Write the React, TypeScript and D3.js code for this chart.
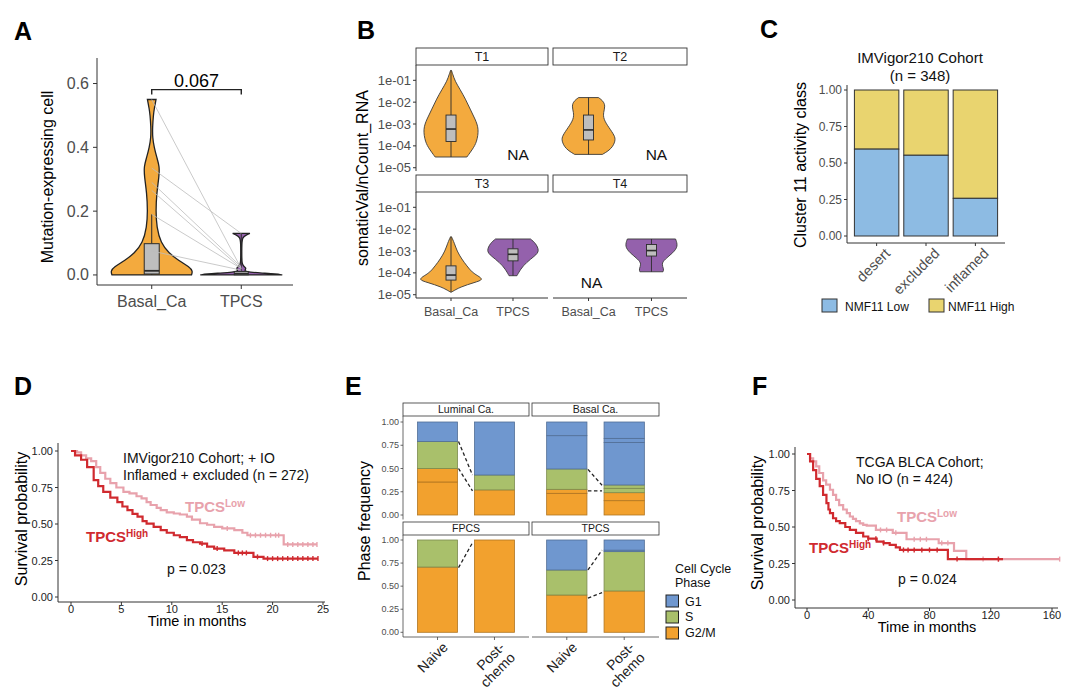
import React from 'react';
import * as d3 from 'd3';

const FONT = '"Liberation Sans", Arial, Helvetica, sans-serif';
const TICK_GRAY = '#4D4D4D';
const AXIS = '#333333';
const ORANGE = '#F3AA3E';
const PURPLE = '#9461AC';
const BOX_FILL = '#BEBEBE';
const RED = '#D02A2F';
const PINK = '#E8A2AC';

type Prof = [number, number][];

// ---------------- Panel A data ----------------
const aCategories = ['Basal_Ca', 'TPCS'];
const aTicks = [0, 0.2, 0.4, 0.6];
// [value, relative half-width]
const aBasalViolin: Prof = [[0, 0.97], [0.012, 1], [0.024, 0.93], [0.045, 0.66], [0.068, 0.42], [0.1, 0.22], [0.15, 0.12], [0.2, 0.1], [0.256, 0.12], [0.31, 0.18], [0.34, 0.19], [0.37, 0.12], [0.4, 0.06], [0.43, 0.02], [0.465, 0.02], [0.5, 0.04], [0.52, 0.06], [0.55, 0.105]];
const aTpcsViolin: Prof = [[0, 1], [0.003, 0.85], [0.006, 0.5], [0.009, 0.2], [0.012, 0.08], [0.017, 0.1], [0.022, 0.12], [0.027, 0.06], [0.035, 0.02], [0.05, 0.012], [0.1, 0.012], [0.118, 0.03], [0.125, 0.12], [0.13, 0.21]];
const aBasalBox = [0, 0.003, 0.013, 0.098, 0.19];
const aTpcsBox = [0, 0.0005, 0.004, 0.011, 0.13];
const aPairs: [number, number][] = [[0.55, 0.02], [0.335, 0.13], [0.29, 0.025], [0.265, 0.02], [0.19, 0.02], [0.075, 0.015]];
const aPValue = '0.067';

// ---------------- Panel B data ----------------
const bFacets = ['T1', 'T2', 'T3', 'T4'];
const bCategories = ['Basal_Ca', 'TPCS'];
const bTickExponents = [-5, -4, -3, -2, -1];
const bTickLabels = ['1e-05', '1e-04', '1e-03', '1e-02', '1e-01'];
// [log10 value, relative half-width]
const bT1Basal: Prof = [[-4.51, 0.48], [-4.14, 0.66], [-3.83, 0.78], [-3.23, 0.85], [-2.77, 0.73], [-2.32, 0.58], [-1.86, 0.44], [-1.41, 0.27], [-1.03, 0.12], [-0.73, 0.055], [-0.55, 0.015]];
const bT1BasalBox = [-4.51, -3.8, -3.23, -2.59, -0.55];
const bT2Basal: Prof = [[-4.39, 0.42], [-4.14, 0.7], [-3.76, 0.82], [-3.53, 0.79], [-3.15, 0.61], [-2.77, 0.45], [-2.47, 0.45], [-2.17, 0.51], [-1.94, 0.44], [-1.79, 0.3]];
const bT2BasalBox = [-4.39, -3.73, -3.27, -2.59, -1.79];
const bT3Basal: Prof = [[-4.88, 0.015], [-4.65, 0.27], [-4.43, 0.73], [-4.31, 0.99], [-4.13, 0.81], [-3.98, 0.64], [-3.68, 0.48], [-3.38, 0.33], [-3.0, 0.18], [-2.63, 0.1], [-2.35, 0.015]];
const bT3BasalBox = [-4.88, -4.33, -4.1, -3.68, -2.35];
const bT3Tpcs: Prof = [[-4.13, 0.12], [-3.83, 0.23], [-3.53, 0.4], [-3.23, 0.66], [-3.0, 0.81], [-2.63, 0.68], [-2.45, 0.53]];
const bT3TpcsBox = [-4.13, -3.45, -3.15, -2.9, -2.45];
const bT4Tpcs: Prof = [[-3.95, 0.35], [-3.83, 0.38], [-3.6, 0.3], [-3.38, 0.4], [-3.08, 0.66], [-2.78, 0.81], [-2.45, 0.73]];
const bT4TpcsBox = [-3.95, -3.23, -2.98, -2.7, -2.45];

// ---------------- Panel C data ----------------
const cCategories = ['desert', 'excluded', 'inflamed'];
const cLow = [0.595, 0.553, 0.258];
const cTicks = [0, 0.25, 0.5, 0.75, 1];
const cTickLabels = ['0.00', '0.25', '0.50', '0.75', '1.00'];
const cLegend = ['NMF11 Low', 'NMF11 High'];
const cColors = ['#8DBBE3', '#E9D46F'];

// ---------------- Panel D data ----------------
const dLow: [number, number][] = [[0, 1], [0.6, 0.99], [1, 0.97], [1.5, 0.95], [2, 0.93], [2.5, 0.89], [2.9, 0.85], [3.4, 0.81], [3.9, 0.78], [4.5, 0.75], [5.2, 0.72], [5.8, 0.71], [6.5, 0.69], [7, 0.675], [7.5, 0.65], [7.9, 0.63], [8.5, 0.61], [8.9, 0.595], [9.5, 0.58], [10.2, 0.572], [10.8, 0.565], [11.5, 0.55], [12, 0.53], [12.8, 0.505], [13.5, 0.495], [14.2, 0.48], [15, 0.47], [16.2, 0.458], [17, 0.44], [17.5, 0.423], [21.1, 0.36], [24.4, 0.36]];
const dHigh: [number, number][] = [[0, 1], [0.4, 0.97], [1, 0.94], [1.6, 0.89], [2.25, 0.8], [2.7, 0.76], [3.2, 0.72], [3.9, 0.68], [4.6, 0.65], [5.1, 0.62], [5.6, 0.595], [6.1, 0.57], [6.6, 0.55], [7.1, 0.52], [7.5, 0.503], [8.2, 0.48], [8.9, 0.458], [9.5, 0.44], [10.2, 0.423], [10.8, 0.41], [11.5, 0.39], [12.1, 0.375], [12.8, 0.366], [13.5, 0.345], [14.2, 0.332], [15.2, 0.32], [16.2, 0.302], [18.1, 0.275], [19.1, 0.263], [24.5, 0.263]];
const dLowCensor = [15.5, 17.8, 18.3, 18.8, 19.3, 19.8, 20.3, 20.6, 21.5, 22, 22.5, 23, 23.5, 24, 24.4];
const dHighCensor = [13, 14.5, 16.6, 17, 17.4, 18.5, 19.5, 20, 20.5, 21, 21.5, 22, 22.5, 23, 23.5, 24, 24.5];
const dXTicks = [0, 5, 10, 15, 20, 25];
const survTicks = [0, 0.25, 0.5, 0.75, 1];
const survTickLabels = ['0.00', '0.25', '0.50', '0.75', '1.00'];

// ---------------- Panel E data ----------------
const eFacets = ['Luminal Ca.', 'Basal Ca.', 'FPCS', 'TPCS'];
const eConditions = ['Naive', 'Post-chemo'];
const ePhases = ['G1', 'S', 'G2/M'];
const ePhaseColors = ['#6F97CF', '#A9C06B', '#F2A12E'];
const eTicks = [0, 0.25, 0.5, 0.75, 1];
const eTickLabels = ['0.00', '0.25', '0.50', '0.75', '1.00'];
// stacked segments from bottom: [phase, fraction]
const eLuminalNaive: [string, number][] = [['G2/M', 0.355], ['G2/M', 0.145], ['S', 0.29], ['G1', 0.21]];
const eLuminalPost: [string, number][] = [['G2/M', 0.27], ['S', 0.16], ['G1', 0.57]];
const eBasalNaive: [string, number][] = [['G2/M', 0.233], ['G2/M', 0.043], ['S', 0.219], ['G1', 0.358], ['G1', 0.147]];
const eBasalPost: [string, number][] = [['G2/M', 0.154], ['G2/M', 0.086], ['S', 0.047], ['S', 0.036], ['G1', 0.457], ['G1', 0.044], ['G1', 0.176]];
const eFpcsNaive: [string, number][] = [['G2/M', 0.707], ['S', 0.293]];
const eFpcsPost: [string, number][] = [['G2/M', 1.0]];
const eTpcsNaive: [string, number][] = [['G2/M', 0.404], ['S', 0.271], ['G1', 0.325]];
const eTpcsPost: [string, number][] = [['G2/M', 0.448], ['S', 0.426], ['G1', 0.016], ['G1', 0.11]];
// dashed connectors [naive value, post value]
const eLuminalLinks: [number, number][] = [[0.79, 0.43], [0.5, 0.26]];
const eBasalLinks: [number, number][] = [[0.49, 0.32], [0.26, 0.26]];
const eFpcsLinks: [number, number][] = [[0.7, 0.97]];
const eTpcsLinks: [number, number][] = [[0.675, 0.89], [0.37, 0.43]];

// ---------------- Panel F data ----------------
const fLow: [number, number][] = [[0, 1], [2, 0.97], [4, 0.95], [6, 0.915], [8, 0.87], [10.5, 0.82], [12.5, 0.79], [15, 0.755], [17, 0.72], [19, 0.686], [21, 0.65], [23.6, 0.62], [26, 0.595], [28, 0.572], [30, 0.555], [32, 0.54], [34.5, 0.525], [36.7, 0.515], [39, 0.51], [45, 0.48], [56, 0.46], [65, 0.416], [86, 0.39], [96, 0.336], [104, 0.28], [165, 0.28]];
const fHigh: [number, number][] = [[0, 1], [2, 0.95], [4, 0.89], [6, 0.83], [8.3, 0.78], [10.5, 0.72], [12.7, 0.664], [14, 0.62], [15, 0.595], [17, 0.56], [19, 0.54], [21.4, 0.526], [25, 0.5], [28, 0.48], [32, 0.46], [36.7, 0.435], [40, 0.42], [45.5, 0.4], [50, 0.39], [54, 0.378], [58, 0.36], [60.7, 0.343], [92, 0.28], [128, 0.28]];
const fLowCensor = [48, 52, 58, 70, 74, 78, 88, 92, 115, 125, 165];
const fHighCensor = [40, 45, 50, 63, 66, 70, 75, 80, 85, 98, 125];
const fXTicks = [0, 40, 80, 120, 160];

// ---------------- helpers ----------------
function violinPath(profile: Prof, cx: number, y: (v: number) => number, w: (d: number) => number) {
  return d3.area<[number, number]>()
    .y(d => y(d[0]))
    .x0(d => cx - w(d[1]))
    .x1(d => cx + w(d[1]))
    .curve(d3.curveBasis)(profile) || '';
}

function BoxPlot({ cx, stats, y, hw, sw = 1 }: { cx: number; stats: number[]; y: (v: number) => number; hw: number; sw?: number }) {
  const [lo, q1, med, q3, hi] = stats.map(y);
  return (
    <g stroke="#2b2b2b" strokeWidth={sw}>
      <line x1={cx} x2={cx} y1={lo} y2={q1} />
      <line x1={cx} x2={cx} y1={q3} y2={hi} />
      <rect x={cx - hw} y={q3} width={2 * hw} height={Math.max(0.5, q1 - q3)} fill={BOX_FILL} />
      <line x1={cx - hw} x2={cx + hw} y1={med} y2={med} strokeWidth={sw * 1.8} />
    </g>
  );
}

function survAt(curve: [number, number][], t: number) {
  let s = curve[0][1];
  for (const [tt, ss] of curve) {
    if (tt <= t) s = ss; else break;
  }
  return s;
}

function Label({ x, y, children, size = 25 }: any) {
  return <text x={x} y={y} fontSize={size} fontWeight="bold" fill="#000">{children}</text>;
}

function Sup({ x, y, main, sup, color }: any) {
  return (
    <text x={x} y={y} fill={color} fontWeight="bold" fontSize={15}>
      {main}
      <tspan dy={-5} fontSize={10} fontWeight="bold">{sup}</tspan>
    </text>
  );
}

// ---------------- Panels ----------------
function PanelA() {
  const y = d3.scaleLinear().domain([-0.0315, 0.68]).range([285, 58]);
  const x = d3.scalePoint<string>().domain(aCategories).range([98, 295]).padding(0.6);
  const w = d3.scaleLinear().domain([0, 1]).range([0, 41]);
  const xb = x('Basal_Ca')!;
  const xt = x('TPCS')!;
  const by = y(0.581);
  return (
    <g>
      <Label x={14} y={40}>A</Label>
      <path d={violinPath(aBasalViolin, xb, y, w)} fill={ORANGE} stroke="#222" strokeWidth={1.3} />
      <path d={violinPath(aTpcsViolin, xt, y, w)} fill={PURPLE} stroke="#222" strokeWidth={1.3} />
      <BoxPlot cx={xb} stats={aBasalBox} y={y} hw={7.5} sw={1} />
      <BoxPlot cx={xt} stats={aTpcsBox} y={y} hw={7} sw={1} />
      {aPairs.map((p, i) => (
        <line key={i} x1={xb} y1={y(p[0])} x2={xt} y2={y(p[1])} stroke="#BDBDBD" strokeWidth={0.8} />
      ))}
      <line x1={97} x2={97} y1={58} y2={285} stroke={AXIS} strokeWidth={1} />
      <line x1={97} x2={293} y1={285} y2={285} stroke={AXIS} strokeWidth={1} />
      {aTicks.map(t => (
        <g key={t}>
          <line x1={93} x2={97} y1={y(t)} y2={y(t)} stroke={AXIS} />
          <text x={89} y={y(t) + 5.5} textAnchor="end" fontSize={16} fill={TICK_GRAY}>{t.toFixed(1)}</text>
        </g>
      ))}
      {aCategories.map(c => (
        <g key={c}>
          <line x1={x(c)} x2={x(c)} y1={285} y2={289} stroke={AXIS} />
          <text x={x(c)} y={307} textAnchor="middle" fontSize={16} fill={TICK_GRAY}>{c}</text>
        </g>
      ))}
      <text transform={`translate(53,${177}) rotate(-90)`} textAnchor="middle" fontSize={16} fill="#000">Mutation-expressing cell</text>
      <path d={`M${xb},${by + 5}V${by}H${xt}V${by + 5}`} fill="none" stroke="#222" strokeWidth={1.4} />
      <text x={(xb + xt) / 2} y={by - 2.5} textAnchor="middle" fontSize={18} fill="#000">{aPValue}</text>
    </g>
  );
}

function PanelB() {
  const cols = [[416, 548], [553, 687]];
  const rows = [{ strip: [48, 65], panel: [65, 171] }, { strip: [175, 192], panel: [192, 298] }];
  const profiles: Record<string, [Prof | null, number[] | null, Prof | null, number[] | null]> = {
    T1: [bT1Basal, bT1BasalBox, null, null],
    T2: [bT2Basal, bT2BasalBox, null, null],
    T3: [bT3Basal, bT3BasalBox, bT3Tpcs, bT3TpcsBox],
    T4: [null, null, bT4Tpcs, bT4TpcsBox],
  };
  const w = d3.scaleLinear().domain([0, 1]).range([0, 33]);
  return (
    <g>
      <Label x={357} y={39}>B</Label>
      <text transform={`translate(368,${178}) rotate(-90)`} textAnchor="middle" fontSize={16} fill="#000">somaticVal/nCount_RNA</text>
      {bFacets.map((f, i) => {
        const c = cols[i % 2];
        const r = rows[Math.floor(i / 2)];
        const ys = d3.scaleLog().domain([10 ** -5.15, 10 ** -0.3]).range([r.panel[1], r.panel[0]]);
        const yf = (e: number) => ys(10 ** e);
        const x = d3.scalePoint<string>().domain(bCategories).range([c[0], c[1]]).padding(0.565);
        const [bp, bb, tp, tb] = profiles[f];
        const naY = i < 2 ? 160 : 288;
        return (
          <g key={f}>
            <rect x={c[0]} y={r.strip[0]} width={c[1] - c[0]} height={r.strip[1] - r.strip[0]} fill="#fff" stroke="#333" strokeWidth={0.9} />
            <text x={(c[0] + c[1]) / 2} y={r.strip[1] - 4.5} textAnchor="middle" fontSize={12.5} fill="#1a1a1a">{f}</text>
            {bp && <path d={violinPath(bp, x('Basal_Ca')!, yf, w)} fill={ORANGE} stroke="#3a3a3a" strokeWidth={0.9} />}
            {bb && <BoxPlot cx={x('Basal_Ca')!} stats={bb} y={yf} hw={5} sw={0.9} />}
            {tp && <path d={violinPath(tp, x('TPCS')!, yf, w)} fill={PURPLE} stroke="#3a3a3a" strokeWidth={0.9} />}
            {tb && <BoxPlot cx={x('TPCS')!} stats={tb} y={yf} hw={5} sw={0.9} />}
            {!bp && <text x={x('Basal_Ca')!+3} y={naY} textAnchor="middle" fontSize={15.5} fill="#111">NA</text>}
            {!tp && <text x={x('TPCS')!+5} y={naY} textAnchor="middle" fontSize={15.5} fill="#111">NA</text>}
            {i % 2 === 0 && (
              <g>
                <line x1={c[0]} x2={c[0]} y1={r.panel[0]} y2={r.panel[1]} stroke={AXIS} />
                {bTickExponents.map((e, k) => (
                  <g key={e}>
                    <line x1={c[0] - 3} x2={c[0]} y1={yf(e)} y2={yf(e)} stroke={AXIS} />
                    <text x={c[0] - 5} y={yf(e) + 4.5} textAnchor="end" fontSize={13} fill={TICK_GRAY}>{bTickLabels[k]}</text>
                  </g>
                ))}
              </g>
            )}
            {i >= 2 && (
              <g>
                <line x1={c[0]} x2={c[1]} y1={r.panel[1]} y2={r.panel[1]} stroke={AXIS} />
                {bCategories.map(cat => (
                  <g key={cat}>
                    <line x1={x(cat)} x2={x(cat)} y1={r.panel[1]} y2={r.panel[1] + 3} stroke={AXIS} />
                    <text x={x(cat)} y={r.panel[1] + 18} textAnchor="middle" fontSize={12.5} fill={TICK_GRAY}>{cat}</text>
                  </g>
                ))}
              </g>
            )}
          </g>
        );
      })}
    </g>
  );
}

function PanelC() {
  const x = d3.scaleBand<string>().domain(cCategories).range([847, 1005]).paddingInner(0.1).paddingOuter(0.15);
  const y = d3.scaleLinear().domain([0, 1]).range([236, 90]);
  return (
    <g>
      <Label x={760} y={38}>C</Label>
      <text x={920} y={62.5} textAnchor="middle" fontSize={15} fill="#111">IMVigor210 Cohort</text>
      <text x={920} y={81} textAnchor="middle" fontSize={15} fill="#111">(n = 348)</text>
      {cCategories.map((c, i) => (
        <g key={c}>
          <rect x={x(c)} y={y(1)} width={x.bandwidth()} height={y(cLow[i]) - y(1)} fill={cColors[1]} stroke="#333" strokeWidth={1} />
          <rect x={x(c)} y={y(cLow[i])} width={x.bandwidth()} height={y(0) - y(cLow[i])} fill={cColors[0]} stroke="#333" strokeWidth={1} />
          <line x1={x(c)! + x.bandwidth() / 2} x2={x(c)! + x.bandwidth() / 2} y1={243} y2={246} stroke={AXIS} />
          <text transform={`translate(${x(c)! + x.bandwidth() / 2 + 7},${247}) rotate(-45)`} textAnchor="end" dy="0.72em" fontSize={14.5} fill={TICK_GRAY}>{c}</text>
        </g>
      ))}
      <line x1={847} x2={847} y1={85} y2={243} stroke={AXIS} />
      <line x1={847} x2={1005} y1={243} y2={243} stroke={AXIS} />
      {cTicks.map((t, k) => (
        <g key={t}>
          <line x1={844} x2={847} y1={y(t)} y2={y(t)} stroke={AXIS} />
          <text x={842} y={y(t) + 4.3} textAnchor="end" fontSize={12} fill={TICK_GRAY}>{cTickLabels[k]}</text>
        </g>
      ))}
      <text transform={`translate(806,${165}) rotate(-90)`} textAnchor="middle" fontSize={16} fill="#000">Cluster 11 activity class</text>
      <rect x={822} y={299} width={15} height={13} fill={cColors[0]} stroke="#333" />
      <text x={845} y={311} fontSize={12} fill="#111">{cLegend[0]}</text>
      <rect x={929} y={299} width={15} height={13} fill={cColors[1]} stroke="#333" />
      <text x={948} y={311} fontSize={12} fill="#111">{cLegend[1]}</text>
    </g>
  );
}

function KM({ x, y, axisX, axisY, xTicks, low, high, lowCensor, highCensor, xLabelY, tickLabelY, yLabelX, yLabelY, xLabelX }: any) {
  const line = d3.line<[number, number]>().x(d => x(d[0])).y(d => y(d[1])).curve(d3.curveStepAfter);
  return (
    <g>
      <path d={line(low) || ''} fill="none" stroke={PINK} strokeWidth={2.2} />
      {lowCensor.map((t: number, i: number) => (
        <line key={'l' + i} x1={x(t)} x2={x(t)} y1={y(survAt(low, t)) - 2.5} y2={y(survAt(low, t)) + 2.5} stroke={PINK} strokeWidth={1.4} />
      ))}
      <path d={line(high) || ''} fill="none" stroke={RED} strokeWidth={2.2} />
      {highCensor.map((t: number, i: number) => (
        <line key={'h' + i} x1={x(t)} x2={x(t)} y1={y(survAt(high, t)) - 2.5} y2={y(survAt(high, t)) + 2.5} stroke={RED} strokeWidth={1.4} />
      ))}
      <line x1={axisX[0]} x2={axisX[0]} y1={axisY[0]} y2={axisY[1]} stroke={AXIS} />
      <line x1={axisX[0]} x2={axisX[1]} y1={axisY[1]} y2={axisY[1]} stroke={AXIS} />
      {survTicks.map((t, k) => (
        <g key={t}>
          <line x1={axisX[0] - 3} x2={axisX[0]} y1={y(t)} y2={y(t)} stroke={AXIS} />
          <text x={axisX[0] - 5} y={y(t) + 4} textAnchor="end" fontSize={11} fill="#222">{survTickLabels[k]}</text>
        </g>
      ))}
      {xTicks.map((t: number) => (
        <g key={t}>
          <line x1={x(t)} x2={x(t)} y1={axisY[1]} y2={axisY[1] + 3} stroke={AXIS} />
          <text x={x(t)} y={tickLabelY} textAnchor="middle" fontSize={11} fill="#222">{t}</text>
        </g>
      ))}
      <text x={xLabelX} y={xLabelY} textAnchor="middle" fontSize={14.5} fill="#000">Time in months</text>
      <text transform={`translate(${yLabelX},${yLabelY}) rotate(-90)`} textAnchor="middle" fontSize={16} fill="#000">Survival probability</text>
    </g>
  );
}

function PanelD() {
  const x = d3.scaleLinear().domain([0, 25]).range([71, 323]);
  const y = d3.scaleLinear().domain([0, 1]).range([597, 451]);
  return (
    <g>
      <Label x={14} y={395}>D</Label>
      <KM x={x} y={y} axisX={[58, 325]} axisY={[443, 602]} xTicks={dXTicks} low={dLow} high={dHigh}
        lowCensor={dLowCensor} highCensor={dHighCensor} tickLabelY={613} xLabelY={626} xLabelX={197} yLabelX={27} yLabelY={519} />
      <text x={123} y={463} fontSize={14} fill="#111">IMVigor210 Cohort; + IO</text>
      <text x={123} y={480} fontSize={14} fill="#111">Inflamed + excluded (n = 272)</text>
      <Sup x={185} y={512} main="TPCS" sup="Low" color={PINK} />
      <Sup x={86} y={542} main="TPCS" sup="High" color={RED} />
      <text x={167} y={574} fontSize={14} fill="#111">p = 0.023</text>
    </g>
  );
}

function PanelF() {
  const x = d3.scaleLinear().domain([0, 160]).range([807, 1052]);
  const y = d3.scaleLinear().domain([0, 1]).range([600, 454]);
  return (
    <g>
      <Label x={752} y={395}>F</Label>
      <KM x={x} y={y} axisX={[795, 1058]} axisY={[447, 608]} xTicks={fXTicks} low={fLow} high={fHigh}
        lowCensor={fLowCensor} highCensor={fHighCensor} tickLabelY={619} xLabelY={632} xLabelX={927} yLabelX={763} yLabelY={523} />
      <text x={856} y={467} fontSize={14} fill="#111">TCGA BLCA Cohort;</text>
      <text x={856} y={484} fontSize={14} fill="#111">No IO (n = 424)</text>
      <Sup x={897} y={522} main="TPCS" sup="Low" color={PINK} />
      <Sup x={809} y={553} main="TPCS" sup="High" color={RED} />
      <text x={898} y={584} fontSize={14} fill="#111">p = 0.024</text>
    </g>
  );
}

function PanelE() {
  const cols = [[403, 529], [532, 659]];
  const rows = [{ strip: [403, 416], panel: [416, 519.5], y0: 515, y1: 422 }, { strip: [522, 535], panel: [535, 637], y0: 632.3, y1: 540 }];
  const bars: Record<string, [[string, number][], [string, number][], [number, number][]]> = {
    'Luminal Ca.': [eLuminalNaive, eLuminalPost, eLuminalLinks],
    'Basal Ca.': [eBasalNaive, eBasalPost, eBasalLinks],
    'FPCS': [eFpcsNaive, eFpcsPost, eFpcsLinks],
    'TPCS': [eTpcsNaive, eTpcsPost, eTpcsLinks],
  };
  const color = d3.scaleOrdinal<string, string>().domain(ePhases).range(ePhaseColors);
  return (
    <g>
      <Label x={345} y={395}>E</Label>
      <text transform={`translate(370,${521}) rotate(-90)`} textAnchor="middle" fontSize={16} fill="#000">Phase frequency</text>
      {eFacets.map((f, i) => {
        const c = cols[i % 2];
        const r = rows[Math.floor(i / 2)];
        const y = d3.scaleLinear().domain([0, 1]).range([r.y0, r.y1]);
        const x = d3.scaleBand<string>().domain(eConditions).range([c[0], c[1]]).paddingInner(0.298).paddingOuter(0.255);
        const [naive, post, links] = bars[f];
        const stacks = [naive, post].map(segs => {
          let acc = 0;
          return segs.map(([ph, v]) => {
            const s = { ph, a: acc, b: acc + v };
            acc += v;
            return s;
          });
        });
        return (
          <g key={f}>
            <rect x={c[0]} y={r.strip[0]} width={c[1] - c[0]} height={r.strip[1] - r.strip[0]} fill="#fff" stroke="#333" strokeWidth={0.8} />
            <text x={(c[0] + c[1]) / 2} y={r.strip[1] - 3.3} textAnchor="middle" fontSize={10.5} fill="#1a1a1a">{f}</text>
            {stacks.map((st, k) => (
              <g key={k}>
                {st.map((s, j) => {
                  const col = color(s.ph);
                  return (
                    <rect key={j} x={x(eConditions[k])} y={y(s.b)} width={x.bandwidth()} height={y(s.a) - y(s.b)}
                      fill={col} stroke={d3.color(col)!.darker(0.9).toString()} strokeWidth={0.8} />
                  );
                })}
              </g>
            ))}
            {links.map((l, k) => (
              <line key={k} x1={x('Naive')! + x.bandwidth() + 1} y1={y(l[0])} x2={x('Post-chemo')! - 2} y2={y(l[1])}
                stroke="#222" strokeWidth={1.3} strokeDasharray="3.5,2.5" />
            ))}
            {i % 2 === 0 && (
              <g>
                <line x1={c[0]} x2={c[0]} y1={r.panel[0]} y2={r.panel[1]} stroke="#444" strokeWidth={0.8} />
                {eTicks.map((t, k) => (
                  <g key={t}>
                    <line x1={c[0] - 2.5} x2={c[0]} y1={y(t)} y2={y(t)} stroke="#444" strokeWidth={0.8} />
                    <text x={c[0] - 4} y={y(t) + 3} textAnchor="end" fontSize={9} fill={TICK_GRAY}>{eTickLabels[k]}</text>
                  </g>
                ))}
              </g>
            )}
            {i >= 2 && (
              <g>
                <line x1={c[0]} x2={c[1]} y1={r.panel[1]} y2={r.panel[1]} stroke="#444" strokeWidth={0.8} />
                {eConditions.map(cond => {
                  const cx = x(cond)! + x.bandwidth() / 2;
                  const parts = cond === 'Post-chemo' ? ['Post-', 'chemo'] : [cond];
                  return (
                    <g key={cond}>
                      <line x1={cx} x2={cx} y1={r.panel[1]} y2={r.panel[1] + 3} stroke="#444" strokeWidth={0.8} />
                      <text transform={`translate(${cx + 4},${641}) rotate(-45)`} textAnchor="end" fontSize={14} fill="#222">
                        {parts.map((p, k) => (
                          <tspan key={k} x={0} dy={k === 0 ? '0.72em' : '1.05em'}>{p}</tspan>
                        ))}
                      </text>
                    </g>
                  );
                })}
              </g>
            )}
          </g>
        );
      })}
      <text x={675} y={573} fontSize={12.5} fill="#111">Cell Cycle</text>
      <text x={675} y={587} fontSize={12.5} fill="#111">Phase</text>
      {ePhases.map((p, k) => (
        <g key={p}>
          <rect x={666} y={595 + k * 16} width={12.5} height={12} fill={ePhaseColors[k]} stroke="#222" strokeWidth={1} />
          <text x={685} y={605.5 + k * 15.5} fontSize={12.5} fill="#111">{p}</text>
        </g>
      ))}
    </g>
  );
}

export default function App() {
  return (
    <svg width={1080} height={689} viewBox="0 0 1080 689" style={{ position: 'absolute', left: 0, top: 0, background: '#fff' }} fontFamily={FONT}>
      <rect x={0} y={0} width={1080} height={689} fill="#fff" />
      <PanelA />
      <PanelB />
      <PanelC />
      <PanelD />
      <PanelE />
      <PanelF />
    </svg>
  );
}
